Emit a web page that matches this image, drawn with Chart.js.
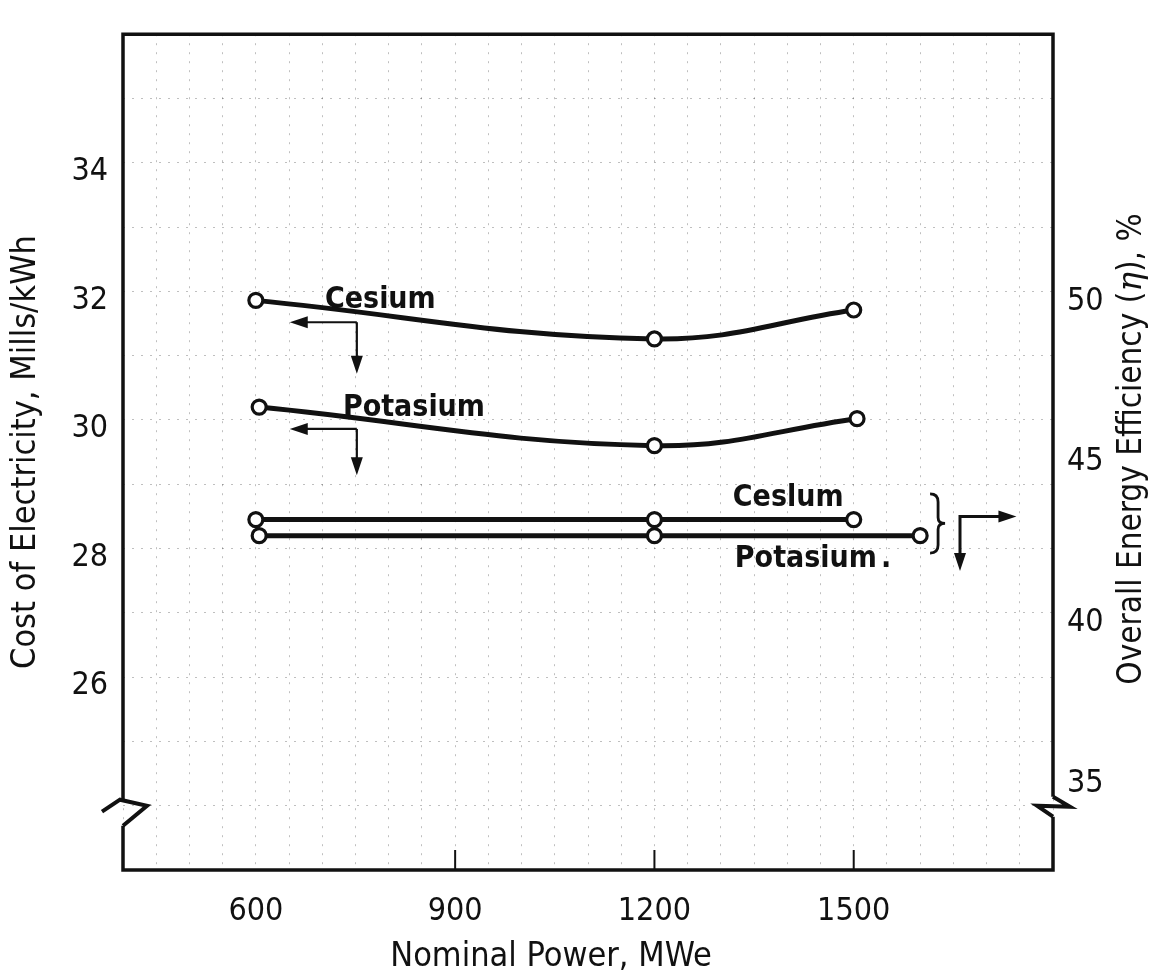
<!DOCTYPE html>
<html><head><meta charset="utf-8">
<script src="https://cdn.jsdelivr.net/npm/chart.js@4.4.0/dist/chart.umd.min.js"></script>
<style>html,body{margin:0;padding:0;background:#fff;}#wrap{width:1164px;height:980px;}</style>
</head><body><div id="wrap"><canvas id="c" width="1164" height="980"></canvas></div>
<script>
// ---- data ----
const cesiumCostPower = [600, 1200, 1500];
const cesiumCost = [31.86, 31.26, 31.71];          // Mills/kWh (left axis)
const potasiumCostPower = [605, 1200, 1505];
const potasiumCost = [30.20, 29.60, 30.02];        // Mills/kWh (left axis)
const cesiumEffPower = [600, 1200, 1500];
const cesiumEff = [42.9, 42.9, 42.9];              // % (right axis)
const potasiumEffPower = [605, 1200, 1600];
const potasiumEff = [42.4, 42.4, 42.4];            // % (right axis)
const xTickLabels = [600, 900, 1200, 1500];
const costTickLabels = [26, 28, 30, 32, 34];
const effTickLabels = [35, 40, 45, 50];

const FONT = "'Liberation Sans Narrow','DejaVu Sans Condensed','Roboto Condensed','Liberation Sans',sans-serif";
const INK = '#111';

function pts(xs, ys) { return xs.map((x, i) => ({ x: x, y: ys[i] })); }
const lineStyle = {
  borderColor: INK, borderWidth: 5, pointRadius: 7, pointBorderWidth: 3.2,
  pointBackgroundColor: '#fff', pointBorderColor: INK, fill: false
};

function arrowHead(ctx, x, y, dir) {
  ctx.save(); ctx.translate(x, y); ctx.rotate(dir);
  ctx.beginPath(); ctx.moveTo(0, 0); ctx.lineTo(-18, -6); ctx.lineTo(-18, 6); ctx.closePath();
  ctx.fill(); ctx.restore();
}

const decor = {
  id: 'decor',
  afterDraw(chart) {
    const ctx = chart.ctx;
    const xs = chart.scales.x, yc = chart.scales.yCost, ye = chart.scales.yEff;
    const L = chart.chartArea.left, R = chart.chartArea.right, T = chart.chartArea.top, B = chart.chartArea.bottom;
    const X = v => xs.getPixelForValue(v), Y = v => yc.getPixelForValue(v);
    ctx.save();
    ctx.strokeStyle = INK; ctx.fillStyle = INK; ctx.lineCap = 'butt'; ctx.lineJoin = 'miter';
    // frame with axis breaks
    ctx.lineWidth = 3.5;
    const lb = yc.getPixelForValue(24), rb = ye.getPixelForValue(34);
    ctx.beginPath();
    ctx.moveTo(L, lb - 6); ctx.lineTo(L, T); ctx.lineTo(R, T); ctx.lineTo(R, rb - 9);
    ctx.moveTo(R, rb + 11); ctx.lineTo(R, B); ctx.lineTo(L, B); ctx.lineTo(L, lb + 20);
    ctx.stroke();
    ctx.lineWidth = 4;
    ctx.beginPath();
    ctx.moveTo(L - 21, lb + 6); ctx.lineTo(L - 3, lb - 6); ctx.lineTo(L + 24, lb); ctx.lineTo(L, lb + 20);
    ctx.stroke();
    ctx.beginPath();
    ctx.moveTo(R, rb - 9); ctx.lineTo(R + 17, rb + 1); ctx.lineTo(R - 16, rb); ctx.lineTo(R, rb + 11);
    ctx.stroke();
    // inward tick marks on x axis
    ctx.lineWidth = 2;
    [900, 1200, 1500].forEach(v => { ctx.beginPath(); ctx.moveTo(X(v), B); ctx.lineTo(X(v), B - 20); ctx.stroke(); });

    // annotation labels
    ctx.font = "bold 30px " + FONT; ctx.textBaseline = 'middle'; ctx.textAlign = 'left';
    ctx.fillText('Cesium', X(704), Y(31.87));
    ctx.fillText('Potasium', X(731), Y(30.19));
    ctx.fillText('Ceslum', X(1318), Y(28.78));
    ctx.fillText('Potasium', X(1321), Y(27.83));
    ctx.fillText('.', X(1321) + ctx.measureText('Potasium').width + 4, Y(27.83));

    // arrows (left to cost axis, down to power axis)
    ctx.lineWidth = 2.2;
    [[31.52, 30.72], [29.86, 29.14]].forEach(([y0, y1]) => {
      ctx.beginPath(); ctx.moveTo(X(752), Y(y0)); ctx.lineTo(X(662), Y(y0)); ctx.stroke();
      arrowHead(ctx, X(651), Y(y0), Math.PI);
      ctx.beginPath(); ctx.moveTo(X(752), Y(y0)); ctx.lineTo(X(752), Y(y1) - 14); ctx.stroke();
      arrowHead(ctx, X(752), Y(y1), Math.PI / 2);
    });
    // brace
    const bx = X(1627), by0 = Y(28.85), by1 = Y(27.93), bm = (by0 + by1) / 2;
    ctx.lineWidth = 2.8;
    ctx.beginPath();
    ctx.moveTo(bx - 8, by0); ctx.quadraticCurveTo(bx, by0, bx, by0 + 8);
    ctx.lineTo(bx, bm - 6); ctx.quadraticCurveTo(bx, bm, bx + 7, bm);
    ctx.quadraticCurveTo(bx, bm, bx, bm + 6);
    ctx.lineTo(bx, by1 - 8); ctx.quadraticCurveTo(bx, by1, bx - 8, by1);
    ctx.stroke();
    // corner arrow (right to efficiency axis, down to power axis)
    ctx.lineWidth = 3;
    const cx = X(1660), cy = Y(28.50);
    ctx.beginPath(); ctx.moveTo(X(1733), cy); ctx.lineTo(cx, cy); ctx.lineTo(cx, Y(27.65) - 14); ctx.stroke();
    arrowHead(ctx, X(1745), cy, 0);
    arrowHead(ctx, cx, Y(27.65), Math.PI / 2);

    // x axis title (sits left of the plot centre in the reference)
    ctx.font = "34px " + FONT; ctx.textAlign = 'center'; ctx.textBaseline = 'middle';
    ctx.fillText('Nominal Power, MWe', 551, 957);

    // right axis title (reads bottom-to-top)
    ctx.save();
    ctx.translate(1132, 449);
    ctx.rotate(-Math.PI / 2);
    const f1 = "33px " + FONT, f2 = "italic 33px 'DejaVu Serif','Liberation Serif',serif";
    const p1 = 'Overall Energy Efficiency (', p2 = 'η', p3 = '), %';
    ctx.font = f1; const w1 = ctx.measureText(p1).width, w3 = ctx.measureText(p3).width;
    ctx.font = f2; const w2 = ctx.measureText(p2).width;
    let sx = -(w1 + w2 + w3) / 2;
    ctx.textAlign = 'left'; ctx.textBaseline = 'middle';
    ctx.font = f1; ctx.fillText(p1, sx, 0); sx += w1;
    ctx.font = f2; ctx.fillText(p2, sx, 0); sx += w2;
    ctx.font = f1; ctx.fillText(p3, sx, 0);
    ctx.restore();
    ctx.restore();
  }
};

const gridCommon = { color: 'rgba(0,0,0,0.25)', lineWidth: 1, drawTicks: false };

new Chart(document.getElementById('c').getContext('2d'), {
  type: 'line',
  data: {
    datasets: [
      Object.assign({ label: 'Cesium cost', data: pts(cesiumCostPower, cesiumCost), yAxisID: 'yCost', tension: 0.4 }, lineStyle),
      Object.assign({ label: 'Potasium cost', data: pts(potasiumCostPower, potasiumCost), yAxisID: 'yCost', tension: 0.4 }, lineStyle),
      Object.assign({ label: 'Cesium efficiency', data: pts(cesiumEffPower, cesiumEff), yAxisID: 'yEff', tension: 0 }, lineStyle),
      Object.assign({ label: 'Potasium efficiency', data: pts(potasiumEffPower, potasiumEff), yAxisID: 'yEff', tension: 0 }, lineStyle)
    ]
  },
  options: {
    responsive: false, animation: false, devicePixelRatio: 1,
    layout: { padding: { top: 8, left: 0, right: 0, bottom: 0 } },
    plugins: { legend: { display: false }, tooltip: { enabled: false } },
    scales: {
      x: {
        type: 'linear', min: 400, max: 1800,
        afterBuildTicks: s => { const t = []; for (let v = 400; v <= 1800; v += 50) t.push({ value: v }); s.ticks = t; },
        ticks: { autoSkip: false, maxRotation: 0, padding: 22, color: INK, font: { family: FONT, size: 32 },
                 callback: v => xTickLabels.includes(v) ? String(v) : '' },
        grid: gridCommon, border: { display: false, dash: [2, 7] },
        title: { display: false, text: 'Nominal Power, MWe' },
        afterFit: s => { s.height = 110; }
      },
      yCost: {
        position: 'left', min: 23, max: 36,
        afterBuildTicks: s => { const t = []; for (let v = 23; v <= 36; v += 1) t.push({ value: v }); s.ticks = t; },
        ticks: { autoSkip: false, padding: 15, labelOffset: 9, color: INK, font: { family: FONT, size: 32 },
                 callback: v => costTickLabels.includes(v) ? String(v) : '' },
        grid: gridCommon, border: { display: false, dash: [2, 7] },
        title: { display: true, text: 'Cost of Electricity, Mills/kWh', color: INK, font: { family: FONT, size: 34 }, padding: { top: 6, bottom: 0 } },
        afterFit: s => { s.width = 123; }
      },
      yEff: {
        position: 'right', min: 32, max: 58,
        afterBuildTicks: s => { s.ticks = effTickLabels.map(v => ({ value: v })); },
        ticks: { autoSkip: false, padding: 14, labelOffset: 10, color: INK, font: { family: FONT, size: 32 },
                 callback: v => String(v) },
        grid: { display: false, drawTicks: false }, border: { display: false },
        afterFit: s => { s.width = 111; }
      }
    }
  },
  plugins: [decor]
});
</script></body></html>
